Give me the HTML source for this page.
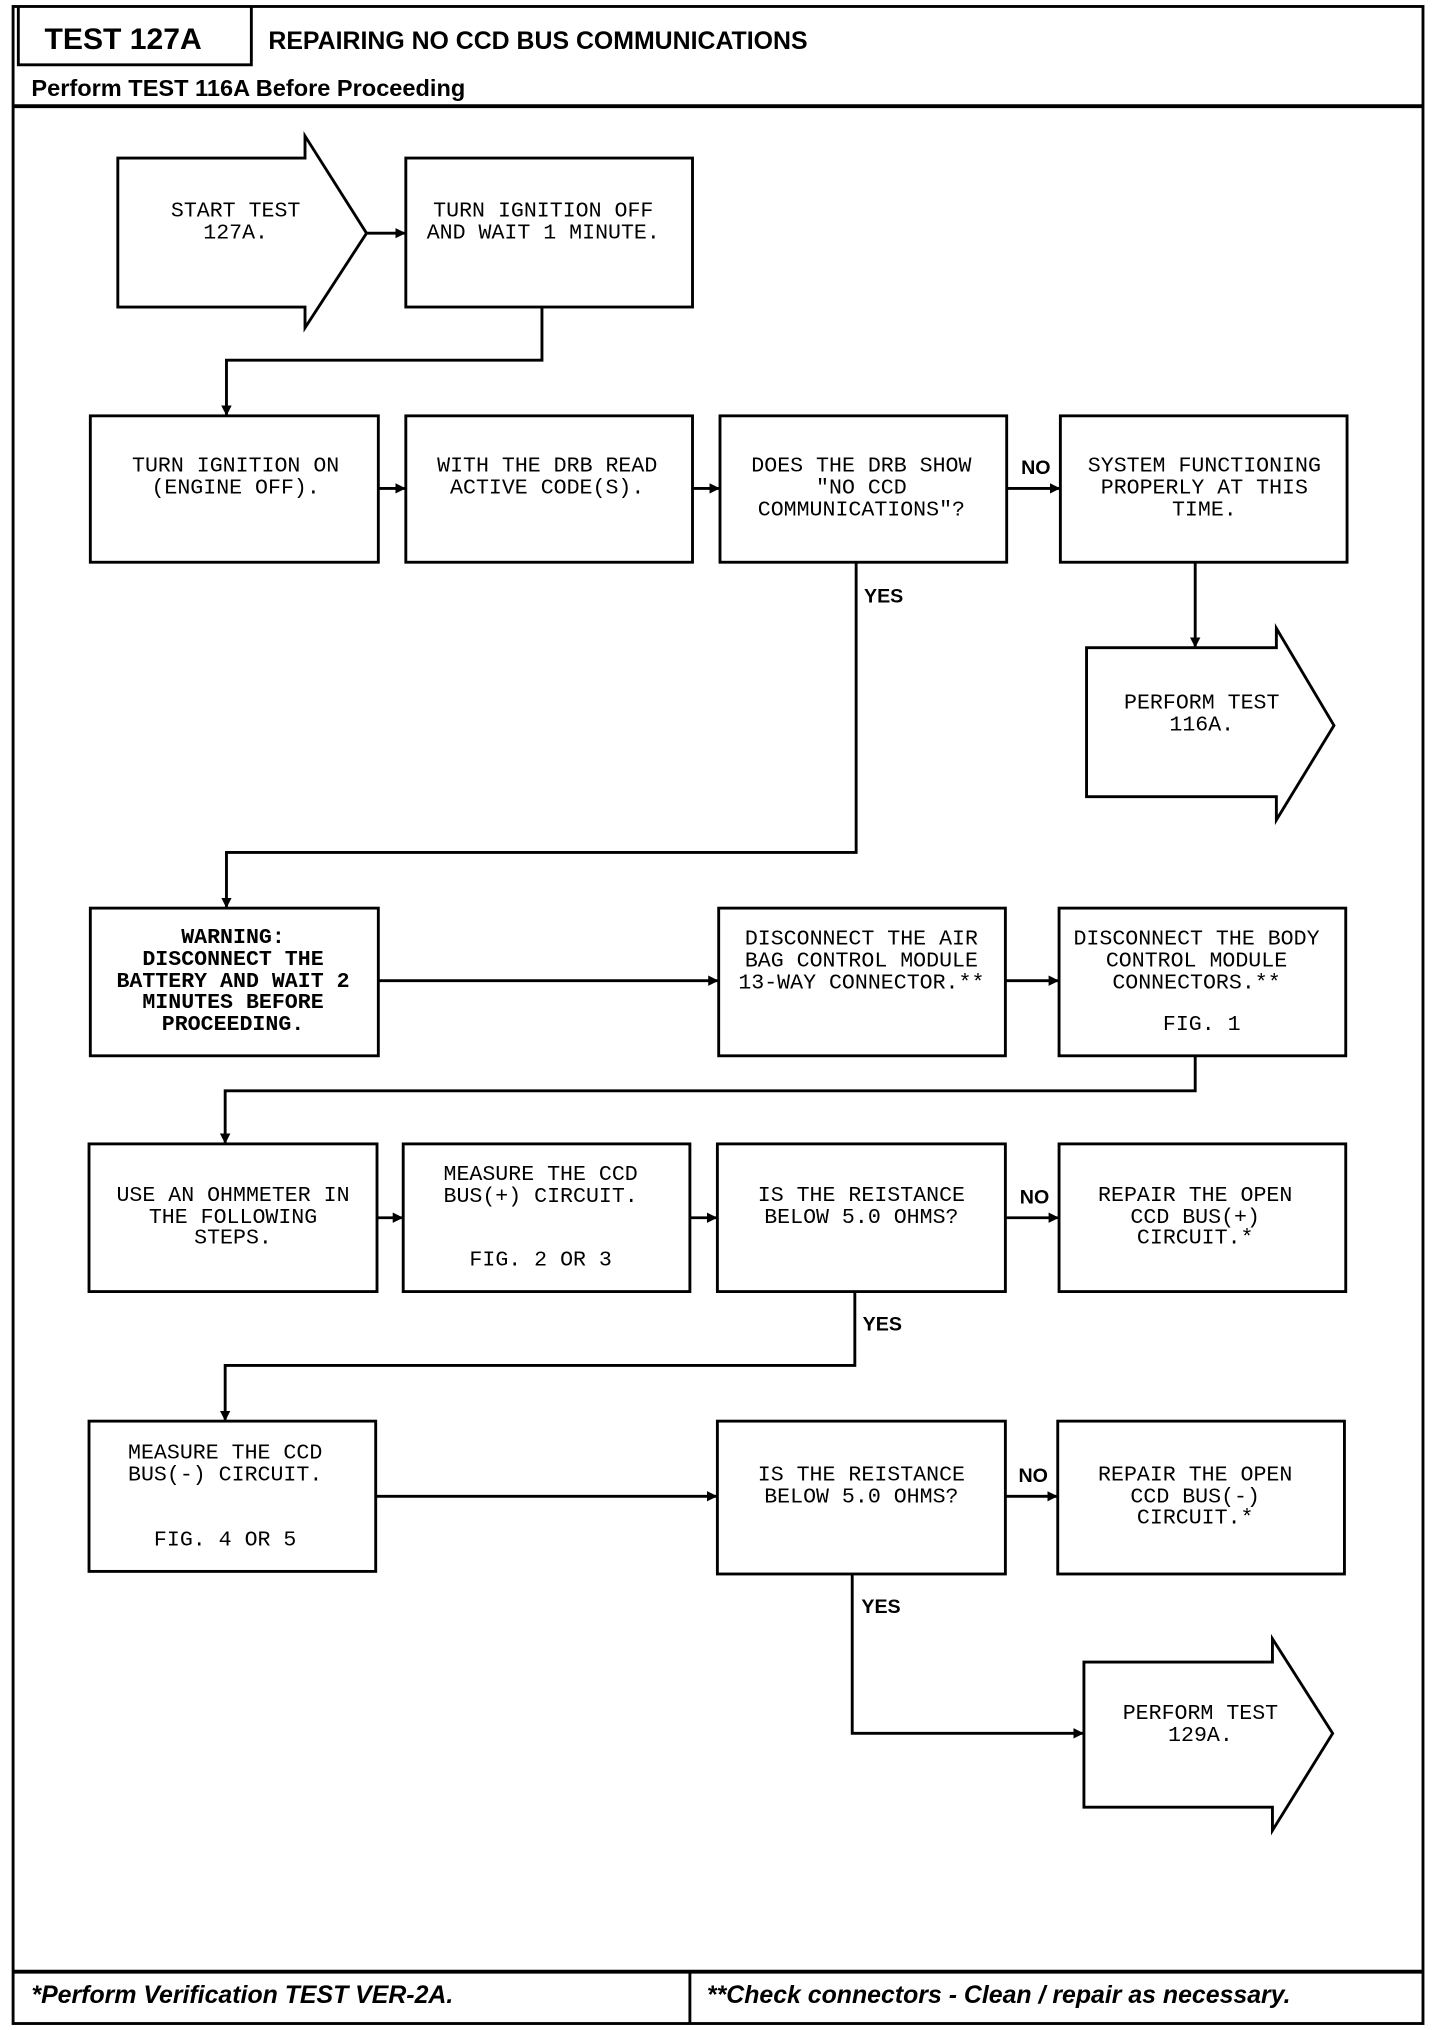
<!DOCTYPE html>
<html><head><meta charset="utf-8"><style>
html,body{margin:0;padding:0;background:#fff;}
svg{display:block;}
.t{font-family:"Liberation Mono",monospace;font-size:16.5px;text-anchor:middle;fill:#000;}
.b{font-weight:bold;}
.h{font-family:"Liberation Sans",sans-serif;font-weight:bold;fill:#000;}
.l{font-family:"Liberation Sans",sans-serif;font-weight:bold;font-size:15px;fill:#000;}
</style></head><body>
<svg width="1440" height="2030" viewBox="0 0 1100 1567" preserveAspectRatio="none" xmlns="http://www.w3.org/2000/svg">
<defs><marker id="a" markerWidth="8" markerHeight="8" refX="7" refY="4" orient="auto" markerUnits="userSpaceOnUse"><path d="M0,0 L8,4 L0,8 z" fill="#000"/></marker></defs>
<g fill="none" stroke="#000" stroke-width="2.2">
<rect x="10" y="5" width="1077" height="1557"/>
<polyline points="14,5 14,50 192,50 192,5"/>
<line x1="10" y1="82" x2="1087" y2="82" stroke-width="3"/>
<line x1="10" y1="1522" x2="1087" y2="1522" stroke-width="3"/>
<line x1="527" y1="1522" x2="527" y2="1562"/>
<polygon points="90,122 233,122 233,105 280,180 233,253 233,237 90,237"/>
<rect x="310" y="122" width="219" height="115"/>
<rect x="69" y="321" width="220" height="113"/>
<rect x="310" y="321" width="219" height="113"/>
<rect x="550" y="321" width="219" height="113"/>
<rect x="810" y="321" width="219" height="113"/>
<polygon points="830,500 975,500 975,485 1019,560 975,633 975,615 830,615"/>
<rect x="69" y="701" width="220" height="114"/>
<rect x="549" y="701" width="219" height="114"/>
<rect x="809" y="701" width="219" height="114"/>
<rect x="68" y="883" width="220" height="114"/>
<rect x="308" y="883" width="219" height="114"/>
<rect x="548" y="883" width="220" height="114"/>
<rect x="809" y="883" width="219" height="114"/>
<rect x="68" y="1097" width="219" height="116"/>
<rect x="548" y="1097" width="220" height="118"/>
<rect x="808" y="1097" width="219" height="118"/>
<polygon points="828,1283 972,1283 972,1265 1018,1338 972,1413 972,1395 828,1395"/>
<g marker-end="url(#a)">
<line x1="280" y1="180" x2="309" y2="180"/>
<polyline points="414,237 414,278 173,278 173,320"/>
<line x1="289" y1="377" x2="309" y2="377"/>
<line x1="529" y1="377" x2="549" y2="377"/>
<line x1="769" y1="377" x2="809" y2="377"/>
<line x1="913" y1="434" x2="913" y2="499"/>
<polyline points="654,434 654,658 173,658 173,700"/>
<line x1="289" y1="757" x2="548" y2="757"/>
<line x1="768" y1="757" x2="808" y2="757"/>
<polyline points="913,815 913,842 172,842 172,882"/>
<line x1="288" y1="940" x2="307" y2="940"/>
<line x1="527" y1="940" x2="547" y2="940"/>
<line x1="768" y1="940" x2="808" y2="940"/>
<polyline points="653,997 653,1054 172,1054 172,1096"/>
<line x1="287" y1="1155" x2="547" y2="1155"/>
<line x1="768" y1="1155" x2="807" y2="1155"/>
<polyline points="651,1215 651,1338 827,1338"/>
</g>
</g>
<text class="h" x="34" y="38" font-size="23">TEST 127A</text>
<text class="h" x="205" y="38" font-size="19">REPAIRING NO CCD BUS COMMUNICATIONS</text>
<text class="h" x="24" y="74" font-size="18">Perform TEST 116A Before Proceeding</text>
<text class="h" x="24" y="1546" font-size="19" font-style="italic">*Perform Verification TEST VER-2A.</text>
<text class="h" x="540" y="1546" font-size="19" font-style="italic">**Check connectors - Clean / repair as necessary.</text>
<text class="l" x="780" y="366">NO</text>
<text class="l" x="660" y="465">YES</text>
<text class="l" x="779" y="929">NO</text>
<text class="l" x="659" y="1027">YES</text>
<text class="l" x="778" y="1144">NO</text>
<text class="l" x="658" y="1245">YES</text>
<g class="t">
<text x="180" y="167">START TEST</text><text x="180" y="184">127A.</text>
<text x="415" y="167">TURN IGNITION OFF</text><text x="415" y="184">AND WAIT 1 MINUTE.</text>
<text x="180" y="364">TURN IGNITION ON</text><text x="180" y="381">(ENGINE OFF).</text>
<text x="418" y="364">WITH THE DRB READ</text><text x="418" y="381">ACTIVE CODE(S).</text>
<text x="658" y="364">DOES THE DRB SHOW</text><text x="658" y="381">"NO CCD</text><text x="658" y="398">COMMUNICATIONS"?</text>
<text x="920" y="364">SYSTEM FUNCTIONING</text><text x="920" y="381">PROPERLY AT THIS</text><text x="920" y="398">TIME.</text>
<text x="918" y="547">PERFORM TEST</text><text x="918" y="564">116A.</text>
<g class="b"><text x="178" y="728">WARNING:</text><text x="178" y="745">DISCONNECT THE</text><text x="178" y="762">BATTERY AND WAIT 2</text><text x="178" y="778">MINUTES BEFORE</text><text x="178" y="795">PROCEEDING.</text></g>
<text x="658" y="729">DISCONNECT THE AIR</text><text x="658" y="746">BAG CONTROL MODULE</text><text x="658" y="763">13-WAY CONNECTOR.**</text>
<text x="914" y="729">DISCONNECT THE BODY</text><text x="914" y="746">CONTROL MODULE</text><text x="914" y="763">CONNECTORS.**</text><text x="918" y="795">FIG. 1</text>
<text x="178" y="927">USE AN OHMMETER IN</text><text x="178" y="944">THE FOLLOWING</text><text x="178" y="960">STEPS.</text>
<text x="413" y="911">MEASURE THE CCD</text><text x="413" y="928">BUS(+) CIRCUIT.</text><text x="413" y="977">FIG. 2 OR 3</text>
<text x="658" y="927">IS THE REISTANCE</text><text x="658" y="944">BELOW 5.0 OHMS?</text>
<text x="913" y="927">REPAIR THE OPEN</text><text x="913" y="944">CCD BUS(+)</text><text x="913" y="960">CIRCUIT.*</text>
<text x="172" y="1126">MEASURE THE CCD</text><text x="172" y="1143">BUS(-) CIRCUIT.</text><text x="172" y="1193">FIG. 4 OR 5</text>
<text x="658" y="1143">IS THE REISTANCE</text><text x="658" y="1160">BELOW 5.0 OHMS?</text>
<text x="913" y="1143">REPAIR THE OPEN</text><text x="913" y="1160">CCD BUS(-)</text><text x="913" y="1176">CIRCUIT.*</text>
<text x="917" y="1327">PERFORM TEST</text><text x="917" y="1344">129A.</text>
</g>
</svg>
</body></html>
